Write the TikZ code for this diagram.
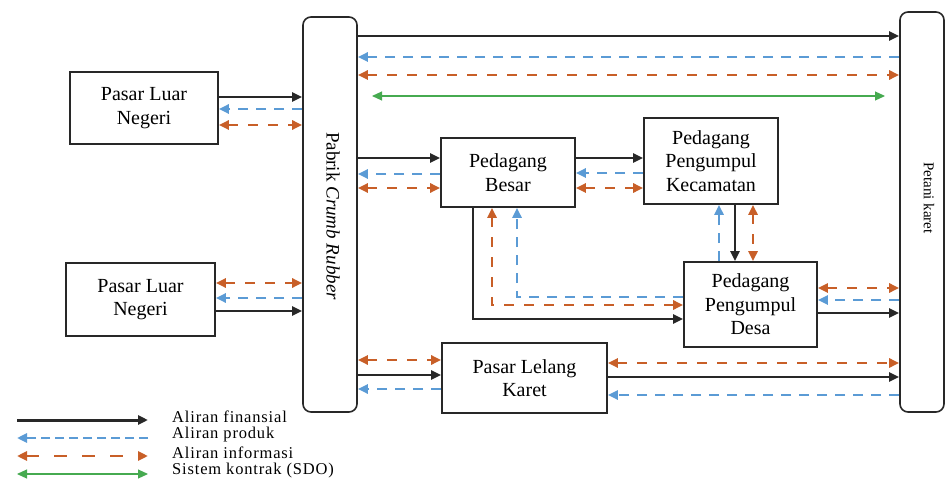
\documentclass[tikz,border=0pt]{standalone}
\usepackage{fontspec}
\setmainfont{Liberation Serif}
\newfontfamily\legendfont[LetterSpace=5]{Liberation Serif}
\usetikzlibrary{arrows.meta}
\definecolor{darkline}{RGB}{40,40,40}
\definecolor{prodblue}{RGB}{91,155,213}
\definecolor{infoorange}{RGB}{200,95,40}
\definecolor{kontrakgreen}{RGB}{70,170,80}
\newcommand\boxfont{\fontsize{20}{23.5}\selectfont}
\tikzset{
  box/.style={draw=darkline, line width=1.6pt, align=center, font=\boxfont, inner sep=0pt},
  tall/.style={draw=darkline, line width=1.6pt, rounded corners=8pt, inner sep=0pt},
  fin/.style={draw=darkline, line width=2.4pt, -{Triangle[length=10pt,width=9pt]}},
  prod/.style={draw=prodblue, line width=2.8pt, dash pattern=on 10pt off 8pt, -{Triangle[length=10pt,width=9pt]}},
  info/.style={draw=infoorange, line width=2.8pt, dash pattern=on 10pt off 10pt, {Triangle[length=10pt,width=9pt]}-{Triangle[length=10pt,width=9pt]}},
  kontrak/.style={draw=kontrakgreen, line width=1.1pt, {Triangle[length=10pt,width=9pt]}-{Triangle[length=10pt,width=9pt]}},
  legtext/.style={anchor=west, inner sep=0pt, font=\legendfont\fontsize{16.5}{18}\selectfont}
}
\begin{document}
\begin{tikzpicture}[x=1pt,y=-1pt]
\useasboundingbox (0,0) rectangle (945,481);
% nodes
\node[box, minimum width=148pt, minimum height=72pt] (pln1) at (144,108) {Pasar Luar\\Negeri};
\node[box, minimum width=149pt, minimum height=73pt] (pln2) at (140.5,299.5) {Pasar Luar\\Negeri};
\node[tall, minimum width=54pt, minimum height=395pt] (pabrik) at (330,214.5) {};
\node[rotate=-90, font=\fontsize{19}{22}\selectfont] (pabriktext) at (333,216) {Pabrik \textit{Crumb Rubber}};
\node[tall, minimum width=44pt, minimum height=400pt] (petani) at (922,212) {};
\node[rotate=-90, font=\fontsize{15}{18}\selectfont] (petanitext) at (929,198) {Petani karet};
\node[box, minimum width=134pt, minimum height=69pt] (pb) at (508,172.5) {Pedagang\\Besar};
\node[box, minimum width=134pt, minimum height=86pt] (ppk) at (711,161) {Pedagang\\Pengumpul\\Kecamatan};
\node[box, minimum width=133pt, minimum height=85pt] (ppd) at (750.5,304.5) {Pedagang\\Pengumpul\\Desa};
\node[box, minimum width=165pt, minimum height=70pt] (plk) at (524.5,378) {Pasar Lelang\\Karet};

% Pabrik - Petani (top)
\draw[fin] (pabrik.east |- 0,36) -- (petani.west |- 0,36);
\draw[prod] (petani.west |- 0,57) -- (pabrik.east |- 0,57);
\draw[info] (pabrik.east |- 0,75) -- (petani.west |- 0,75);
\coordinate (gl) at (372,96);
\coordinate (gr) at (885,96);
\draw[kontrak] (gl) -- (gr);

% Pasar Luar Negeri 1 - Pabrik
\draw[fin] (pln1.east |- 0,97) -- (pabrik.west |- 0,97);
\draw[prod] (pabrik.west |- 0,109) -- (pln1.east |- 0,109);
\draw[info] (pln1.east |- 0,125) -- (pabrik.west |- 0,125);

% Pasar Luar Negeri 2 - Pabrik
\draw[info] (pln2.east |- 0,283) -- (pabrik.west |- 0,283);
\draw[prod] (pabrik.west |- 0,298) -- (pln2.east |- 0,298);
\draw[fin] (pln2.east |- 0,311) -- (pabrik.west |- 0,311);

% Pabrik - Pedagang Besar
\draw[fin] (pabrik.east |- 0,158) -- (pb.west |- 0,158);
\draw[prod] (pb.west |- 0,174) -- (pabrik.east |- 0,174);
\draw[info] (pabrik.east |- 0,188) -- (pb.west |- 0,188);

% Pedagang Besar - PPK
\draw[fin] (pb.east |- 0,158) -- (ppk.west |- 0,158);
\draw[prod] (ppk.west |- 0,173) -- (pb.east |- 0,173);
\draw[info] (pb.east |- 0,188) -- (ppk.west |- 0,188);

% PPK - PPD
\draw[prod] (ppd.north -| 719,0) -- (ppk.south -| 719,0);
\draw[fin] (ppk.south -| 735,0) -- (ppd.north -| 735,0);
\draw[info] (ppk.south -| 753,0) -- (ppd.north -| 753,0);

% PB - PPD
\draw[fin] (pb.south -| 473,0) |- (ppd.west |- 0,319);
\draw[info] (pb.south -| 492,0) |- (ppd.west |- 0,305);
\draw[prod] (ppd.west |- 0,297) -| (pb.south -| 517,0);

% PPD - Petani
\draw[info] (ppd.east |- 0,288) -- (petani.west |- 0,288);
\draw[prod] (petani.west |- 0,300) -- (ppd.east |- 0,300);
\draw[fin] (ppd.east |- 0,313) -- (petani.west |- 0,313);

% Pabrik - Pasar Lelang
\draw[info] (pabrik.east |- 0,360) -- (plk.west |- 0,360);
\draw[fin] (pabrik.east |- 0,375) -- (plk.west |- 0,375);
\draw[prod] (plk.west |- 0,389) -- (pabrik.east |- 0,389);

% Pasar Lelang - Petani
\draw[info] (plk.east |- 0,363) -- (petani.west |- 0,363);
\draw[fin] (plk.east |- 0,377) -- (petani.west |- 0,377);
\draw[prod] (petani.west |- 0,395) -- (plk.east |- 0,395);

% Legend
\coordinate (l1a) at (17,420); \coordinate (l1b) at (148,420);
\coordinate (l2a) at (17,438); \coordinate (l2b) at (148,438);
\coordinate (l3a) at (17,456); \coordinate (l3b) at (148,456);
\coordinate (l4a) at (17,474); \coordinate (l4b) at (148,474);
\draw[fin, line width=3pt] (l1a) -- (l1b);
\draw[prod, dash pattern=on 9pt off 5pt] (l2b) -- (l2a);
\draw[info, dash pattern=on 13pt off 15pt] (l3a) -- (l3b);
\draw[kontrak] (l4a) -- (l4b);
\node[legtext] (t1) at (172,417) {Aliran finansial};
\node[legtext] (t2) at (172,435) {Aliran produk};
\node[legtext] (t3) at (172,453) {Aliran informasi};
\node[legtext] (t4) at (172,471) {Sistem kontrak (SDO)};
\end{tikzpicture}
\end{document}
